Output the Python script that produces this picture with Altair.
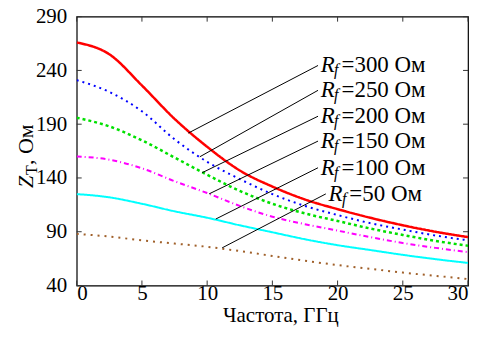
import altair as alt
import pandas as pd

freq = [0, 2.5, 5, 7.5, 10, 12.5, 15, 17.5, 20, 22.5, 25, 27.5, 30]
z300 = [266, 255, 226, 195, 169, 147, 132, 120, 111, 103, 96, 90, 85]
z250 = [231, 220, 202, 176, 155, 139, 125, 114, 105.5, 98, 92, 86.5, 82]
z200 = [196, 188, 175, 159, 143, 128, 116, 107, 100, 93, 87, 81.5, 77]
z150 = [160, 157, 149, 137, 126, 114, 104, 97, 91, 85, 79.5, 75, 71]
z100 = [125, 122, 116, 109, 103, 96, 89.5, 83, 77.5, 73, 68.5, 64.5, 61]
z50 = [88, 85.5, 82, 79, 76, 72, 67.5, 63, 59, 55.5, 52, 49, 46]

series_names = ["300", "250", "200", "150", "100", "50"]
series_vals = [z300, z250, z200, z150, z100, z50]
colors = ["#ff0000", "#0000ff", "#00e000", "#ff00ff", "#00ffff", "#a0602a"]
dashes = [[1, 0], [2, 4], [3, 3], [5, 3, 1, 3], [1, 0], [2, 5]]
widths = [2.5, 2, 2.5, 2, 2, 2]

# annotation data (data units)
lab_text = ["=300 Ом", "=250 Ом", "=200 Ом", "=150 Ом", "=100 Ом", "=50 Ом"]
lab_x = [18.7, 18.7, 18.7, 18.7, 18.7, 19.3]
lab_y = [244.6, 221.5, 197.4, 174.3, 149.5, 125.2]
lead_x1 = [18.5, 18.5, 18.5, 18.5, 18.5, 19.1]
lead_x2 = [8.55, 9.44, 9.62, 10.15, 10.66, 11.15]
lead_y2 = [181.7, 159.7, 144.9, 125.2, 101.8, 75.0]

x_ticks = [0, 5, 10, 15, 20, 25, 30]
y_ticks = [40, 90, 140, 190, 240, 290]

W, H = 393, 270
FONT = "Liberation Serif, Times New Roman, DejaVu Serif, serif"

xs = alt.Scale(domain=[0, 30], nice=False, zero=False)
ys = alt.Scale(domain=[40, 290], nice=False, zero=False)
x_axis = alt.Axis(values=x_ticks, title="Частота, ГГц", domain=False,
                  ticks=False, grid=False, labelFont=FONT, labelFontSize=21,
                  labelColor="black", labelPadding=-3, titleFont=FONT,
                  titleFontSize=21, titleFontWeight="normal",
                  titleColor="black", titlePadding=1, titleX=W / 2 + 8)
y_axis = alt.Axis(values=y_ticks, title=None, domain=False, ticks=False,
                  grid=False, labelFont=FONT, labelFontSize=21,
                  labelColor="black", labelPadding=10)


def X(field):
    return alt.X(field, type="quantitative", scale=xs, axis=x_axis)


def Y(field):
    return alt.Y(field, type="quantitative", scale=ys, axis=y_axis)


layers = []
for i, (nm, vals) in enumerate(zip(series_names, series_vals)):
    df = pd.DataFrame({"f": freq, "z": vals})
    ln = alt.Chart(df).mark_line(
        color=colors[i], strokeWidth=widths[i], strokeDash=dashes[i],
        interpolate="monotone", clip=True
    ).encode(x=X("f"), y=Y("z"))
    layers.append(ln)

lead_df = pd.DataFrame({"x1": lead_x1, "y1": lab_y, "x2": lead_x2, "y2": lead_y2})
leaders = alt.Chart(lead_df).mark_rule(color="black", strokeWidth=1).encode(
    x=X("x1"), y=Y("y1"), x2="x2:Q", y2="y2:Q")
layers.append(leaders)

lab_df = pd.DataFrame({"x": lab_x, "y": lab_y, "t": lab_text})
base_lab = alt.Chart(lab_df).encode(x=X("x"), y=Y("y"))
layers.append(base_lab.mark_text(text="R", font=FONT, fontSize=23, fontStyle="italic",
                                 align="left", baseline="middle", color="black"))
layers.append(base_lab.mark_text(text="f", font=FONT, fontSize=16, fontStyle="italic",
                                 align="left", baseline="middle", dx=13.5, dy=5,
                                 color="black"))
layers.append(base_lab.mark_text(font=FONT, fontSize=23, align="left",
                                 baseline="middle", dx=21, color="black"
                                 ).encode(text="t:N"))

# inward ticks
xt_df = pd.DataFrame({"xt": x_ticks})
yt_df = pd.DataFrame({"yt": y_ticks})
tick_col = "#333333"
layers.append(alt.Chart(xt_df).mark_rule(color=tick_col).encode(
    x=X("xt"), y=alt.value(H - 5), y2=alt.value(H)))
layers.append(alt.Chart(xt_df).mark_rule(color=tick_col).encode(
    x=X("xt"), y=alt.value(0), y2=alt.value(5)))
layers.append(alt.Chart(yt_df).mark_rule(color=tick_col).encode(
    y=Y("yt"), x=alt.value(0), x2=alt.value(5)))
layers.append(alt.Chart(yt_df).mark_rule(color=tick_col).encode(
    y=Y("yt"), x=alt.value(W - 5), x2=alt.value(W)))

# y title: Z_T, Ом
one = pd.DataFrame({"a": [0]})
layers.append(alt.Chart(one).mark_text(text="Z", font=FONT, fontSize=22, fontStyle="italic",
                                       angle=270, align="left", baseline="middle",
                                       color="black").encode(
    x=alt.value(-51), y=alt.value(172)))
layers.append(alt.Chart(one).mark_text(text="Т", font=FONT, fontSize=16,
                                       angle=270, align="left", baseline="middle",
                                       color="black").encode(
    x=alt.value(-45), y=alt.value(159)))
layers.append(alt.Chart(one).mark_text(text=", Ом", font=FONT, fontSize=22,
                                       angle=270, align="left", baseline="middle",
                                       color="black").encode(
    x=alt.value(-51), y=alt.value(149)))

chart = alt.layer(*layers).properties(
    width=W, height=H,
    autosize=alt.AutoSizeParams(type="none"),
    padding={"left": 69, "top": 8, "right": 5, "bottom": 45},
).configure_view(stroke="black", strokeWidth=1.2)

chart.save("out.html", embed_options={"renderer": "svg", "actions": False})
